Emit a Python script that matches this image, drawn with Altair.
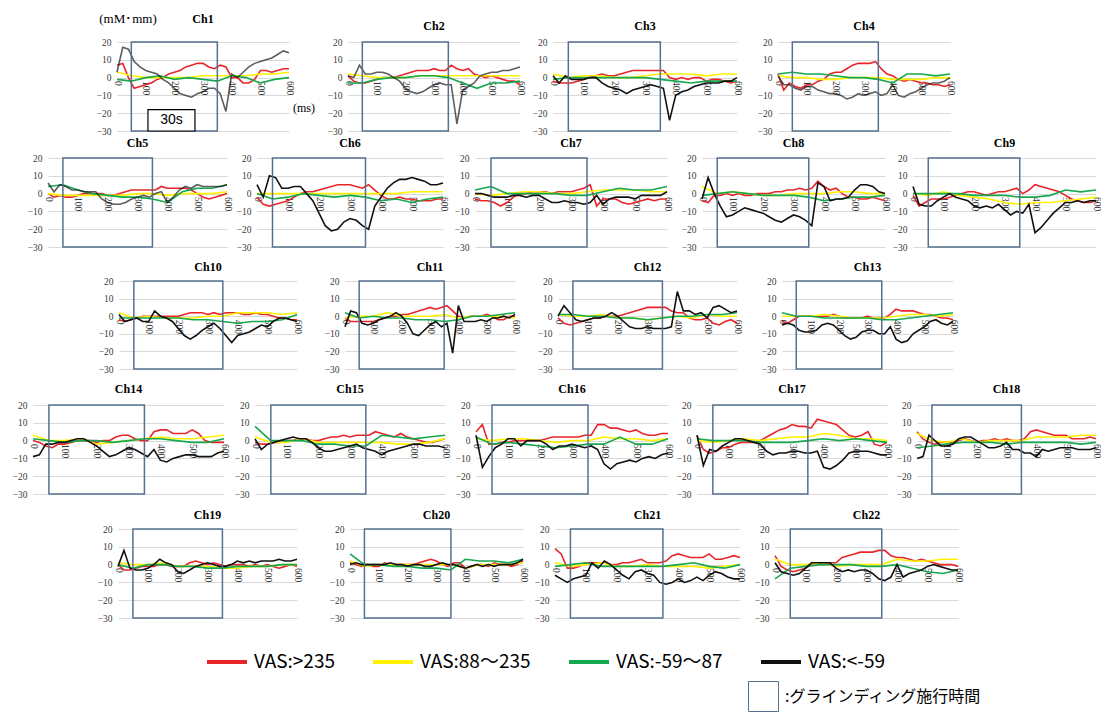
import altair as alt
import pandas as pd

# ---------------- data ----------------
SERIES = ["VAS:>235", "VAS:88〜235", "VAS:-59〜87", "VAS:<-59"]
SERIES_COLORS = ["#e8262a", "#fff200", "#16a84e", "#111111"]
GRIND_LABEL = ":グラインディング施行時間"
GRIND_MS = [50, 350]
Y_TICKS = [-30, -20, -10, 0, 10, 20]
X_TICKS = [0, 100, 200, 300, 400, 500, 600]
X_FINE = list(range(0, 601, 20))     # sample times for red / black curves
X_COARSE = list(range(0, 601, 50))   # sample times for yellow / green curves

RED = {
    1: [7, 8, 0, -6, -5, -4, -3, -1, 0, 2, 3, 4, 6, 7, 8, 8, 6, 5, 7, 6, 0, 0, -3, -3, -1, 4, 4, 3, 4, 5, 5],
    2: [1, -2, -3, -3, -2, -1, 0, 0, 0, 1, 2, 3, 4, 4, 4, 5, 4, 4, 7, 5, 4, 5, 2, 1, 0, 1, 0, -1, -2, -2, -4],
    3: [-2, -3, -3, -3, -2, -1, 0, 1, 2, 1, 1, 2, 3, 4, 4, 4, 4, 4, 4, 0, -1, 0, -1, 0, 0, -2, -1, -1, -2, -3, -2],
    4: [2, -7, -3, -5, -6, -4, -4, -2, -1, 2, 3, 3, 5, 7, 8, 8, 8, 9, 5, 2, 1, -1, -2, -1, -2, -3, -3, -4, -4, -5, -4],
    5: [0, -2, -1, -2, -2, -1, 0, 0, 0, 0, -1, -1, 0, 1, 2, 2, 2, 2, 2, 4, 3, 3, 3, 3, 2, 0, -2, -3, -2, -1, 0],
    6: [-2, -6, -7, -6, -5, -4, -2, 0, 1, 1, 2, 3, 4, 5, 5, 5, 4, 3, 5, 2, -1, -3, -3, -2, -3, -3, -4, -4, -4, -3, -3],
    7: [-3, -4, -4, -5, -7, -5, -2, 0, 0, 1, 1, 1, 0, 1, 1, 1, 2, 3, 5, -7, -3, -3, -3, -5, -6, -5, -4, -3, -4, -3, -3],
    8: [-4, -5, -1, -1, 0, -1, 0, -1, -1, 0, 0, 0, 1, 1, 2, 2, 3, 2, 3, 7, 4, 2, 3, 0, -2, -2, -3, -3, -2, -3, -4],
    9: [-1, -7, -5, -3, -3, -3, -2, -1, 0, 1, 1, 0, -1, 0, 1, 1, 2, 3, 0, 2, 5, 4, 3, 2, 1, -1, -3, -4, -5, -5, -4],
    10: [-2, -3, -2, -1, 0, 0, 0, 0, 0, 0, 0, 1, 2, 2, 2, 1, 2, 1, 2, 2, 2, 1, 1, 2, 1, 1, 0, -1, -1, -2, -2],
    11: [-1, -3, -3, -3, -3, -3, -2, -1, 0, 0, 1, 1, 2, 3, 4, 5, 4, 5, 6, 3, 0, -1, 0, 0, 0, 1, 0, -2, -2, 0, 0],
    12: [-1, -4, -5, -4, -3, -2, -1, -1, 0, 0, 0, 1, 2, 3, 4, 5, 5, 5, 5, 3, 2, 2, -1, -2, -2, -1, -4, -5, -3, -2, -4],
    13: [-3, -4, -2, 0, 0, 0, 0, 0, 0, 1, 0, -1, -1, -1, -1, 0, -1, -1, -1, 1, 4, 3, 3, 3, 2, 1, 1, 0, -1, -1, -2],
    14: [0, -1, -3, -4, -2, -2, -1, 0, 0, 0, -1, 0, 0, 2, 3, 3, 1, 0, 0, 5, 6, 6, 4, 4, 4, 6, 4, 0, -1, -1, -1],
    15: [-1, -2, -2, -1, -1, 0, 0, 1, 1, 0, 0, 1, 2, 2, 3, 2, 3, 3, 3, 5, 4, 3, 2, 4, 2, 1, 0, -1, -1, 0, 1],
    16: [5, 9, -2, -2, -1, -1, 0, 0, 0, 0, 0, 1, 2, 2, 2, 2, 2, 3, 3, 9, 9, 7, 7, 6, 5, 6, 4, 3, 3, 4, 4],
    17: [3, -5, -7, -6, -4, -4, -2, -1, -1, -1, 0, 2, 4, 6, 7, 9, 8, 8, 7, 12, 11, 10, 9, 6, 3, 2, 3, 5, -2, -3, -1],
    18: [5, 1, -1, -2, -1, -1, -1, 0, 1, 0, -1, 0, 0, 1, 0, 1, 0, 0, 1, 5, 6, 5, 4, 3, 3, 3, 1, 1, 1, 2, 1],
    19: [0, -3, -3, -2, -1, -1, -1, 0, 0, -1, -1, -1, 1, 2, 1, 0, 1, 0, -1, 0, 0, 0, -1, 0, -1, 0, -1, -2, -1, 0, -1],
    20: [1, 0, -1, 0, -1, -1, 1, 0, 0, 0, 0, 0, 1, 2, 3, 2, 0, -1, 1, 1, -2, -1, 0, 0, -1, 1, 0, 0, -1, 0, 2],
    21: [9, 6, -2, -2, -1, 1, 1, 1, 1, 0, 0, 1, 1, 2, 3, 1, 1, 1, 2, 5, 6, 5, 4, 4, 4, 6, 3, 3, 4, 5, 4],
    22: [5, -1, -3, -4, -3, -2, 0, 1, 0, 1, 1, 4, 5, 6, 7, 7, 7, 8, 8, 5, 4, 4, 3, 2, 3, 2, 1, 0, 0, 0, -1],
}

BLACK = {
    1: [3, 17, 16, 9, 6, 4, 3, 2, -1, -3, -6, -9, -10, -11, -9, -8, -6, -6, -9, -19, 2, 0, 3, 6, 8, 9, 10, 11, 13, 15, 14],
    2: [1, 0, 7, 2, 2, 3, 3, 2, 0, -2, -6, -8, -9, -8, -6, -4, -3, -4, -4, -26, -7, -5, -3, 1, 2, 3, 3, 4, 4, 5, 6],
    3: [1, -3, 1, -1, -1, -1, 0, 0, -3, -5, -6, -7, -9, -7, -6, -5, -4, -5, -6, -24, -10, -8, -7, -5, -4, -3, -3, -3, -2, -2, 0],
    4: [1, -4, -4, -6, -7, -5, -5, -7, -8, -9, -9, -10, -12, -11, -9, -10, -9, -8, -10, -9, -4, -10, -11, -9, -8, -6, -4, -3, -3, -2, 0],
    5: [6, 1, 5, 4, 2, 2, 1, 1, 1, -3, -5, -6, -6, -5, -3, -2, -1, -2, 0, 1, -5, -2, 2, 4, 3, 5, 4, 4, 4, 4, 5],
    6: [5, -2, 10, 9, 3, 3, 4, 4, 0, -4, -11, -18, -21, -20, -16, -14, -15, -18, -20, -7, -2, 3, 6, 8, 8, 9, 8, 7, 5, 5, 6],
    7: [0, 0, -1, -2, -2, -2, -1, -1, -2, -1, -1, -3, -5, -5, -4, -5, -5, -6, -5, -1, -6, -3, -2, -2, -2, -3, -1, -1, -1, -1, 1],
    8: [-3, 9, 0, -7, -13, -12, -10, -8, -9, -10, -11, -13, -15, -16, -14, -12, -13, -15, -18, 6, 4, -4, -3, -3, -2, 2, 5, 5, 4, 1, 0],
    9: [4, -6, -7, -7, -4, -2, 0, -2, -3, -4, -7, -8, -7, -8, -6, -9, -12, -10, -11, -6, -22, -19, -15, -11, -8, -5, -5, -4, -5, -4, -4],
    10: [1, -3, -2, -1, -3, -3, 3, 0, -1, -3, -7, -11, -13, -11, -8, -6, -4, -7, -11, -15, -11, -10, -9, -7, -5, -6, -3, -1, -1, -2, -3],
    11: [-6, 3, 2, -4, -5, -4, -2, -1, 0, 2, 0, -4, -10, -11, -8, -5, -3, -6, -4, -21, 6, -3, -3, -3, -2, -3, -1, -1, 0, -1, 1],
    12: [0, 6, 2, -2, -3, -2, -1, -1, 0, 2, 0, -3, -6, -7, -7, -6, -7, -7, -7, -6, 14, 3, 3, 1, 2, -1, 5, 6, 4, 2, 3],
    13: [-5, -4, -5, -8, -9, -9, -8, -5, -4, -5, -8, -11, -13, -12, -9, -8, -8, -10, -10, -6, -13, -15, -14, -10, -8, -6, -3, -2, -4, -5, -3],
    14: [-9, -8, -2, -2, -1, -1, 0, 1, 1, -1, -3, -6, -9, -8, -6, -4, -5, -7, -9, -5, -11, -12, -10, -9, -8, -8, -9, -9, -9, -7, -6],
    15: [1, -5, -2, -1, 0, 1, 2, 1, 1, -1, -4, -6, -6, -5, -4, -3, -2, -4, -5, -6, -8, -6, -5, -4, -3, -2, -2, -3, -3, -3, -4],
    16: [3, -15, -9, -4, -2, 1, 1, -3, 0, 0, 0, -2, -5, -3, -3, -2, -3, -4, -3, -5, -13, -16, -13, -12, -11, -12, -10, -9, -10, -8, -7],
    17: [3, -14, -5, -6, -3, -1, 1, 1, 0, -1, -2, -6, -8, -7, -7, -6, -6, -7, -7, -6, -15, -16, -14, -11, -7, -6, -6, -6, -7, -8, -8],
    18: [-10, -9, 3, 0, -3, -3, -2, 1, 2, 2, 0, -2, -4, -4, -3, -1, -5, -5, -7, -7, -9, -5, -6, -5, -4, -4, -4, -5, -5, -5, -4],
    19: [-1, 8, -2, -3, -3, -2, 0, 3, 1, 0, -4, -5, -3, -1, 0, 1, 0, -1, -1, 0, 2, 1, 2, 1, 2, 2, 2, 3, 2, 2, 3],
    20: [0, 1, 0, 0, 0, 0, 0, 1, 0, 0, -1, 0, 0, -1, -1, 0, 1, 0, 0, -1, -2, -1, 0, -1, 0, -1, 0, 0, 0, 1, 3],
    21: [-6, -8, -10, -8, -7, -6, 1, -2, 2, 0, -3, -6, -8, -4, -3, -5, -6, -10, -11, -10, -8, -10, -9, -7, -9, -6, -4, -5, -7, -8, -8],
    22: [1, -4, -5, -6, -5, -2, 1, 1, 1, 1, -2, -4, -3, -4, -3, -3, -5, -8, -9, -7, 0, -7, -5, -4, -3, -1, 0, -1, -2, -3, -3],
}

YELLOW = {
    1: [3, 1, 0, 0, 0, 0, 1, 1, 1, 1, 2, 2, 3],
    2: [2, 1, 0, 0, 0, 1, 1, 1, 1, 1, 1, 1, 1],
    3: [2, 0, 1, 1, 0, 0, 1, 2, 2, 2, 1, 2, 2],
    4: [1, 0, 0, -1, -1, 0, 0, 0, -1, -1, -1, 0, 0],
    5: [0, -1, -1, -1, -1, -1, 0, 0, -1, 0, 0, 0, 1],
    6: [0, 0, 0, 0, 0, 0, 0, 0, 0, 0, 1, 1, 1],
    7: [0, -1, 0, 1, 1, 0, 0, 1, 2, 2, 2, 1, 1],
    8: [4, 0, 1, 0, -1, -1, 0, 0, 0, 1, 1, 0, 0],
    9: [0, -1, 1, -1, -2, -3, -5, -6, -5, -5, -4, -3, -2],
    10: [2, -1, 0, -1, -1, -1, 0, 0, 2, 2, 2, 1, 2],
    11: [-1, 0, 0, 2, 0, 0, 0, 1, -1, 0, 0, 0, -1],
    12: [1, 0, 0, 1, -1, -1, -2, -1, 0, -1, 1, 0, 0],
    13: [0, 0, 0, 1, 0, -1, -1, -1, 0, 1, 1, 0, 1],
    14: [3, 0, 0, 1, -2, -1, 0, 1, 2, 1, 1, 2, 3],
    15: [2, -1, -1, 1, -1, -1, -1, -1, -1, -2, -2, -1, 1],
    16: [1, 0, 1, 1, 0, -1, 0, 0, 2, 1, 1, 0, 1],
    17: [0, -1, 0, 1, 0, 1, 2, 2, 4, 3, 1, 1, 0],
    18: [4, 0, -1, 1, -1, 0, 0, 0, 2, 2, 2, 3, 3],
    19: [1, 0, 0, 1, -1, -1, -1, -2, -2, -1, -1, 0, 0],
    20: [2, -1, 0, 0, 0, 0, 0, 0, -2, 0, 0, 0, 1],
    21: [1, -1, 0, 1, -1, -1, 0, -1, -1, -1, -2, -1, 0],
    22: [3, 0, 0, 1, -1, 0, 0, 0, 3, 2, 2, 3, 3],
}

GREEN = {
    1: [-1, -2, 0, 1, -1, 0, -1, -2, 1, 0, -3, -1, 0],
    2: [-3, -3, -1, 0, 0, 1, 1, 0, -3, -6, -3, -3, -2],
    3: [-1, 0, 0, 0, 0, 0, 0, -1, -2, -3, -2, -2, -2],
    4: [2, 3, 2, 2, 1, 0, 0, -1, -3, 2, 2, 1, 2],
    5: [4, 5, 2, 0, -1, -2, -2, -3, -5, 1, 3, 3, 5],
    6: [0, -3, -2, 0, -1, -2, -1, -2, -4, -3, -5, -3, -2],
    7: [2, 4, 0, 0, 0, 0, -1, -1, 1, 3, 2, 2, 4],
    8: [-1, 0, 1, 0, -1, -1, -1, -2, -4, -3, -2, -2, -1],
    9: [0, 0, 0, 0, -1, -1, -1, -2, -2, -1, 2, 1, 2],
    10: [-1, -1, -1, -1, -1, -2, -2, -3, -4, -3, -3, -2, 1],
    11: [2, -1, 0, -1, -1, -2, -2, -3, -2, 0, 0, 1, 2],
    12: [1, 1, 0, 0, -1, -1, -2, -1, 0, 0, 1, 1, 2],
    13: [2, 0, 0, -1, -1, -1, -1, -2, -2, -1, 0, 1, 2],
    14: [1, 0, -1, 0, 0, -1, 0, 1, 1, 0, -1, -1, 1],
    15: [8, 0, 0, 0, -2, -2, -3, -3, 3, 2, 1, 2, 3],
    16: [2, -2, -1, -2, -3, -4, -3, -2, -2, 2, -2, -2, 1],
    17: [1, 0, 0, 0, -1, -1, -1, 0, 1, 0, 1, 0, -1],
    18: [-4, -3, -2, -1, -1, -1, -2, -1, -1, -1, -1, -2, -1],
    19: [0, -2, 0, 0, -1, -1, -2, -2, -1, -1, -1, 0, 0],
    20: [6, 0, 0, -1, -1, -2, -2, -3, 3, 2, 2, 1, 3],
    21: [-1, 0, 1, -1, -1, -1, -1, -1, 0, 1, -1, -2, 0],
    22: [-8, -2, -1, 0, 0, 0, -1, -1, 0, -2, -4, -5, -3],
}

GRAY_BLACK = [1, 2, 4, 5]   # panels whose lowest-VAS curve is printed in dark gray

# ---------------- layout / style ----------------
SERIF = "Liberation Serif"
CJK = "Noto Sans CJK JP"
LABEL_COLOR = "#3a3a3a"
GRID_COLOR = "#d9d9d9"
BOX_COLOR = "#56718f"
AXIS_FONT = 9.5

# reach: free space kept above each row's plots; h: plot height; raise_: title height above plot
# panels: (channel, left edge of plot, plot width)
ROWS = [
    dict(reach=42, h=89, raise_=16, panels=[(1, 117, 172), (2, 348, 172), (3, 553, 184), (4, 778, 172)]),
    dict(reach=21.25, h=89, raise_=15, panels=[(5, 48, 179), (6, 257, 186), (7, 475, 192), (8, 702, 183), (9, 913, 183)]),
    dict(reach=28.5, h=88, raise_=14, panels=[(10, 119, 178), (11, 345, 170), (12, 558, 179), (13, 782, 171)]),
    dict(reach=30.5, h=89, raise_=16, panels=[(14, 33, 191), (15, 255, 190), (16, 476, 192), (17, 697, 190), (18, 917, 179)]),
    dict(reach=29.5, h=89, raise_=14, panels=[(19, 118, 179), (20, 350, 173), (21, 555, 185), (22, 775, 183)]),
]
TOP_SHIFT = ROWS[0]["reach"]   # legends are placed relative to the first row's origin

COLOR_LEGEND = alt.Legend(
    orient="none", legendX=205, legendY=640 - TOP_SHIFT, direction="horizontal", columns=4,
    symbolType="stroke", symbolSize=1600, symbolStrokeWidth=4,
    labelFont=CJK, labelFontSize=19, labelColor="black", labelOffset=5,
    columnPadding=30, padding=0, title=None,
)
BOX_LEGEND = alt.Legend(
    orient="none", legendX=748, legendY=681 - TOP_SHIFT, symbolType="square", symbolSize=900,
    symbolStrokeWidth=1, symbolStrokeColor="#c4c4c4", symbolFillColor="white",
    labelFont=CJK, labelFontSize=16, labelColor="black", labelOffset=6, labelLimit=400,
    padding=0, title=None,
)

SPACER_DATA = pd.DataFrame({"s": [0]})


def spacer(w, h, reach=0.0):
    return (
        alt.Chart(SPACER_DATA)
        .mark_rect(opacity=0, strokeWidth=0)
        .encode(x=alt.value(0), x2=alt.value(1), y=alt.value(-reach), y2=alt.value(0))
        .properties(width=w, height=h)
    )


def panel_frame(ch):
    rows = []
    for name, vals, xs in (
        (SERIES[0], RED[ch], X_FINE),
        (SERIES[1], YELLOW[ch], X_COARSE),
        (SERIES[2], GREEN[ch], X_COARSE),
        (SERIES[3], BLACK[ch], X_FINE),
    ):
        rows += [{"ms": x, "value": v, "series": name} for x, v in zip(xs, vals)]
    return pd.DataFrame(rows)


def panel(ch, w, h, raise_):
    xscale = alt.Scale(domain=[X_TICKS[0], X_TICKS[-1]], nice=False, zero=False)
    yscale = alt.Scale(domain=[Y_TICKS[0], Y_TICKS[-1]], nice=False, zero=False)
    zero_from_bottom = h * (0 - Y_TICKS[0]) / (Y_TICKS[-1] - Y_TICKS[0])
    xaxis = alt.Axis(values=X_TICKS, labelAngle=90, grid=False, domain=False, ticks=False,
                     labelFlush=False, labelOverlap=False, labelFont=SERIF, labelFontSize=AXIS_FONT,
                     labelColor=LABEL_COLOR, labelPadding=3, title=None, offset=-zero_from_bottom)
    yaxis = alt.Axis(values=Y_TICKS, grid=True, gridColor=GRID_COLOR, gridWidth=1, domain=False,
                     ticks=False, labelFlush=False, labelFont=SERIF, labelFontSize=AXIS_FONT,
                     labelColor=LABEL_COLOR, labelPadding=6, title=None)

    enc = dict(
        x=alt.X("ms:Q", scale=xscale, axis=xaxis),
        y=alt.Y("value:Q", scale=yscale, axis=yaxis),
        color=alt.Color("series:N", scale=alt.Scale(domain=SERIES, range=SERIES_COLORS), legend=COLOR_LEGEND),
    )
    if ch in GRAY_BLACK:
        enc["opacity"] = alt.condition(alt.datum.series == SERIES[3], alt.value(0.68), alt.value(1.0))
    lines = alt.Chart(panel_frame(ch)).mark_line(strokeWidth=1.6).encode(**enc)

    box_df = pd.DataFrame({"start": [GRIND_MS[0]], "end": [GRIND_MS[1]],
                           "low": [Y_TICKS[0]], "high": [Y_TICKS[-1]], "kind": [GRIND_LABEL]})
    box = alt.Chart(box_df).mark_rect(filled=False, strokeWidth=1.5).encode(
        x=alt.X("start:Q", scale=xscale, axis=xaxis), x2="end:Q",
        y=alt.Y("low:Q", scale=yscale, axis=yaxis), y2="high:Q",
        stroke=alt.Stroke("kind:N", scale=alt.Scale(domain=[GRIND_LABEL], range=[BOX_COLOR]), legend=BOX_LEGEND),
    )

    layers = [lines, box]

    if ch == 1:
        s_df = pd.DataFrame({"start": [108], "end": [272], "low": [-30], "high": [-18], "mid": [190], "mid_y": [-24], "label": ["30s"]})
        layers.append(alt.Chart(s_df).mark_rect(fill="white", stroke="black", strokeWidth=1.2).encode(
            x=alt.X("start:Q", scale=xscale, axis=xaxis), x2="end:Q",
            y=alt.Y("low:Q", scale=yscale, axis=yaxis), y2="high:Q"))
        layers.append(alt.Chart(s_df).mark_text(font="Liberation Sans", fontSize=14, color="black").encode(
            x=alt.X("mid:Q", scale=xscale, axis=xaxis), y=alt.Y("mid_y:Q", scale=yscale, axis=yaxis), text="label:N"))
        unit_df = pd.DataFrame({"t": ["(mM･mm)"]})
        layers.append(alt.Chart(unit_df).mark_text(font=SERIF, fontSize=13, color="black").encode(
            x=alt.value(11), y=alt.value(-23), text="t:N"))
        ms_df = pd.DataFrame({"t": ["(ms)"]})
        layers.append(alt.Chart(ms_df).mark_text(font=SERIF, fontSize=12, color="black").encode(
            x=alt.value(187), y=alt.value(66), text="t:N"))
        raise_ = 23

    title_df = pd.DataFrame({"name": [f"Ch{ch}"]})
    layers.append(alt.Chart(title_df).mark_text(font=SERIF, fontSize=12, fontWeight="bold", color="black",
                                                align="center", baseline="middle").encode(
        x=alt.value(w / 2), y=alt.value(-raise_), text="name:N"))

    return alt.layer(*layers).properties(width=w, height=h)


def row_chart(row):
    items = []
    prev_right = 0
    for i, (ch, left, w) in enumerate(row["panels"]):
        items.append(spacer(left - prev_right, row["h"], row["reach"] if i == 0 else 0.0))
        items.append(panel(ch, w, row["h"], row["raise_"]))
        prev_right = left + w
    return alt.hconcat(*items, spacing=0, bounds="flush")


chart = (
    alt.vconcat(*[row_chart(r) for r in ROWS], spacing=0)
    .properties(padding=0, background="white")
    .configure_view(stroke=None)
)

chart.save("out.html", embed_options={"renderer": "svg", "actions": False})
